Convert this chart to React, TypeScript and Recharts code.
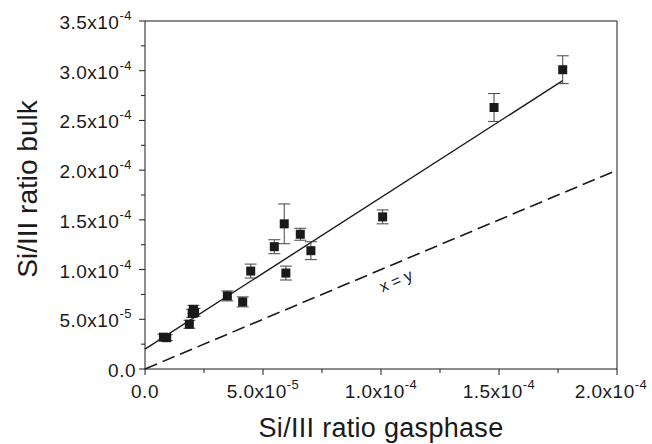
import {
    ScatterChart,
    Scatter,
    XAxis,
    YAxis,
    ErrorBar,
    ReferenceLine,
    ReferenceDot,
} from "recharts";

// measured points (gas phase ratio, bulk ratio, error)
const gasphase = [7.8e-6, 9.2e-6, 1.88e-5, 2.0e-5, 2.1e-5, 2.05e-5, 3.49e-5, 4.14e-5, 4.48e-5, 5.48e-5, 5.9e-5, 5.97e-5, 6.58e-5, 7.03e-5, 1.007e-4, 1.479e-4, 1.77e-4];
const bulk = [3.2e-5, 3.15e-5, 4.5e-5, 5.6e-5, 5.7e-5, 6.0e-5, 7.35e-5, 6.75e-5, 9.85e-5, 1.23e-4, 1.46e-4, 9.65e-5, 1.355e-4, 1.19e-4, 1.53e-4, 2.63e-4, 3.01e-4];
const bulkErr = [3e-6, 3e-6, 4e-6, 4e-6, 4e-6, 4e-6, 5e-6, 5e-6, 7e-6, 7e-6, 2.0e-5, 7e-6, 6e-6, 9e-6, 7e-6, 1.4e-5, 1.4e-5];

// linear fit and the x = y guide
const fitStart = { x: 0, y: 2.0e-5 };
const fitEnd = { x: 1.77e-4, y: 2.9e-4 };
const diagEnd = 2.0e-4;

const xTicks = [0, 2.5e-5, 5e-5, 7.5e-5, 1e-4, 1.25e-4, 1.5e-4, 1.75e-4, 2e-4];
const xLabels = ["0.0", "", "5.0x10|-5", "", "1.0x10|-4", "", "1.5x10|-4", "", "2.0x10|-4"];
const yTicks = [0, 2.5e-5, 5e-5, 7.5e-5, 1e-4, 1.25e-4, 1.5e-4, 1.75e-4, 2e-4, 2.25e-4, 2.5e-4, 2.75e-4, 3e-4, 3.25e-4, 3.5e-4];
const yLabels = ["0.0", "", "5.0x10|-5", "", "1.0x10|-4", "", "1.5x10|-4", "", "2.0x10|-4", "", "2.5x10|-4", "", "3.0x10|-4", "", "3.5x10|-4"];

const data = gasphase.map((g, i) => ({ x: g, y: bulk[i], err: bulkErr[i] }));

const FONT = "'Liberation Sans', Arial, sans-serif";
const INK = "#1a1a1a";

const Label = ({ text, x, y, anchor }: { text: string; x: number; y: number; anchor: string }) => {
    if (!text) return null;
    const [base, exp] = text.split("|");
    return (
        <text x={x} y={y} textAnchor={anchor} fontFamily={FONT} fontSize={19} letterSpacing={0.5} fill={INK}>
            {base}
            {exp && (
                <tspan dy={-9} fontSize={13}>
                    {exp}
                </tspan>
            )}
        </text>
    );
};

const BottomTick = (props: any) => {
    const { x, y, index } = props;
    const major = index % 2 === 0;
    const last = index === xTicks.length - 1;
    return (
        <g>
            <line x1={x} y1={y} x2={x} y2={y + (major ? 6 : 4)} stroke={INK} />
            <Label text={xLabels[index]} x={x - (last ? 6 : 0)} y={y + 29} anchor="middle" />
        </g>
    );
};

const LeftTick = (props: any) => {
    const { x, y, index } = props;
    const major = index % 2 === 0;
    const label = yLabels[index];
    return (
        <g>
            <line x1={x} y1={y} x2={x - (major ? 6 : 4)} y2={y} stroke={INK} />
            <Label text={label} x={x - (label.includes("|") ? 13 : 9)} y={y + 8} anchor="end" />
        </g>
    );
};

const TopTick = (props: any) => {
    const { x, y, index } = props;
    return <line x1={x} y1={y} x2={x} y2={y + (index % 2 === 0 ? 6 : 4)} stroke={INK} />;
};

const RightTick = (props: any) => {
    const { x, y, index } = props;
    return <line x1={x} y1={y} x2={x - (index % 2 === 0 ? 6 : 4)} y2={y} stroke={INK} />;
};

const Square = (props: any) => {
    const { cx, cy } = props;
    return <rect x={cx - 4.5} y={cy - 4.5} width={9} height={9} fill={INK} />;
};

const DiagLabel = (props: any) => {
    const { viewBox } = props;
    const cx = viewBox.x + viewBox.width / 2;
    const cy = viewBox.y + viewBox.height / 2;
    return (
        <text
            x={cx}
            y={cy}
            textAnchor="middle"
            dominantBaseline="middle"
            fontFamily={FONT}
            fontSize={16}
            stroke="none"
            style={{ fill: INK }}
            transform={`rotate(-23 ${cx} ${cy})`}
        >
            x = y
        </text>
    );
};

const XTitle = (props: any) => {
    const { viewBox } = props;
    return (
        <text x={viewBox.x + viewBox.width / 2} y={437} textAnchor="middle" fontFamily={FONT} fontSize={27} letterSpacing={0.3} fill={INK}>
            Si/III ratio gasphase
        </text>
    );
};

const YTitle = () => (
    <text
        x={0}
        y={0}
        textAnchor="middle"
        fontFamily={FONT}
        fontSize={28}
        fill={INK}
        transform="translate(37 189) rotate(-90)"
    >
        Si/III ratio bulk
    </text>
);

export default function App() {
    return (
        <div style={{ position: "absolute", left: 0, top: 0, background: "#fff" }}>
            <ScatterChart width={652} height={444} margin={{ top: 0, right: 0, bottom: 0, left: 0 }}>
                <XAxis
                    type="number"
                    dataKey="x"
                    domain={[0, 2e-4]}
                    ticks={xTicks}
                    interval={0}
                    height={75}
                    tickSize={0}
                    tickMargin={0}
                    axisLine={{ stroke: INK }}
                    tick={<BottomTick />}
                    label={<XTitle />}
                />
                <XAxis
                    xAxisId="top"
                    orientation="top"
                    type="number"
                    domain={[0, 2e-4]}
                    ticks={xTicks}
                    interval={0}
                    height={21}
                    tickSize={0}
                    tickMargin={0}
                    axisLine={{ stroke: INK }}
                    tick={<TopTick />}
                />
                <YAxis
                    type="number"
                    dataKey="y"
                    domain={[0, 3.5e-4]}
                    ticks={yTicks}
                    interval={0}
                    width={145}
                    tickSize={0}
                    tickMargin={0}
                    axisLine={{ stroke: INK }}
                    tick={<LeftTick />}
                    label={<YTitle />}
                />
                <YAxis
                    yAxisId="right"
                    orientation="right"
                    type="number"
                    domain={[0, 3.5e-4]}
                    ticks={yTicks}
                    interval={0}
                    width={35}
                    tickSize={0}
                    tickMargin={0}
                    axisLine={{ stroke: INK }}
                    tick={<RightTick />}
                />
                <ReferenceLine
                    segment={[{ x: 0, y: 0 }, { x: diagEnd, y: diagEnd }]}
                    stroke={INK}
                    strokeWidth={1.6}
                    strokeDasharray="13 6"
                />
                <ReferenceLine
                    segment={[fitStart, fitEnd]}
                    stroke={INK}
                    strokeWidth={1.4}
                />
                <ReferenceDot x={1.065e-4} y={8.75e-5} r={0} stroke="none" fill="none" label={<DiagLabel />} />
                <Scatter data={data} shape={<Square />} isAnimationActive={false}>
                    <ErrorBar dataKey="err" direction="y" width={6} stroke="#444" strokeWidth={1} />
                </Scatter>
            </ScatterChart>
        </div>
    );
}
